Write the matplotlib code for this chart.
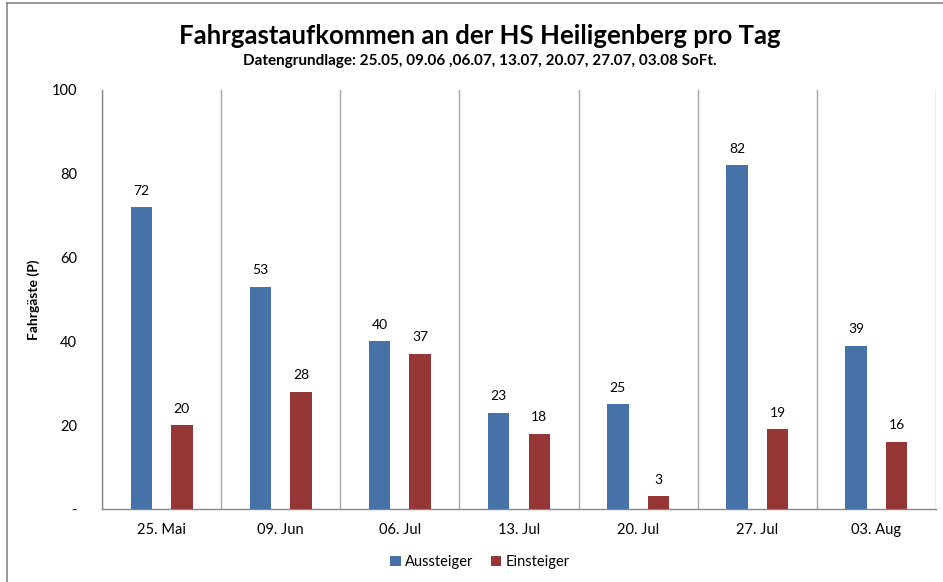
import numpy as np
import matplotlib
matplotlib.use("Agg")
import matplotlib.pyplot as plt
from matplotlib.lines import Line2D

dates = ["25. Mai", "09. Jun", "06. Jul", "13. Jul", "20. Jul", "27. Jul", "03. Aug"]
aussteiger = [72, 53, 40, 23, 25, 82, 39]
einsteiger = [20, 28, 37, 18, 3, 19, 16]
y_ticks = [0, 20, 40, 60, 80, 100]
y_labels = ["-", "20", "40", "60", "80", "100"]

plt.rcParams["font.family"] = ["Lato", "DejaVu Sans"]

blue = "#4672A8"
red = "#953735"
grid_col = "#A6A6A6"

fig = plt.figure(figsize=(9.43, 5.82), dpi=100)
ax = fig.add_axes([102 / 943, 1 - 509 / 582, (936 - 102) / 943, (509 - 90) / 582])

x = np.arange(len(dates))
w = 0.18
off = 0.17
b1 = ax.bar(x - off, aussteiger, w, color=blue, label="Aussteiger", zorder=3)
b2 = ax.bar(x + off, einsteiger, w, color=red, label="Einsteiger", zorder=3)

for bars, vals in ((b1, aussteiger), (b2, einsteiger)):
    for rect, v in zip(bars, vals):
        ax.text(rect.get_x() + rect.get_width() / 2, v + 2.5, str(v),
                ha="center", va="bottom", fontsize=10, color="#000000")

ax.set_xlim(-0.5, len(dates) - 0.5)
ax.set_ylim(0, 100)
ax.set_xticks(x)
ax.set_xticklabels(dates, fontsize=10.5)
ax.set_xticks(np.arange(-0.5, len(dates)), minor=True)
ax.set_yticks(y_ticks)
ax.set_yticklabels(y_labels, fontsize=10.5)
ax.tick_params(axis="both", which="both", length=0)
ax.tick_params(axis="y", pad=18)
ax.tick_params(axis="x", pad=10)
ax.grid(which="minor", axis="x", color=grid_col, linewidth=1, zorder=0)

for s in ("top", "right"):
    ax.spines[s].set_visible(False)
for s in ("left", "bottom"):
    ax.spines[s].set_color("#888888")
    ax.spines[s].set_linewidth(1)

ax.set_ylabel("Fahrgäste (P)", fontsize=10, fontweight="bold", labelpad=8)

fig.text(480 / 943, 1 - 36 / 582, "Fahrgastaufkommen an der HS Heiligenberg pro Tag",
         ha="center", va="center", fontsize=18.5, fontweight="bold")
fig.text(480 / 943, 1 - 61 / 582, "Datengrundlage: 25.05, 09.06 ,06.07, 13.07, 20.07, 27.07, 03.08 SoFt.",
         ha="center", va="center", fontsize=11, fontweight="bold")

fig.legend(handles=[b1, b2], loc="center", bbox_to_anchor=(480 / 943, 1 - 562 / 582),
           ncol=2, frameon=False, fontsize=10.5, handlelength=0.7, handleheight=0.7,
           handletextpad=0.3, columnspacing=1.2)

# outer chart frame (only left and top visible in the crop)
fig.add_artist(Line2D([7 / 943, 7 / 943], [0, 1 - 3 / 582], color="#888888", linewidth=1.2))
fig.add_artist(Line2D([7 / 943, 1], [1 - 3 / 582, 1 - 3 / 582], color="#888888", linewidth=1.2))

fig.savefig("out.png", dpi=100)
